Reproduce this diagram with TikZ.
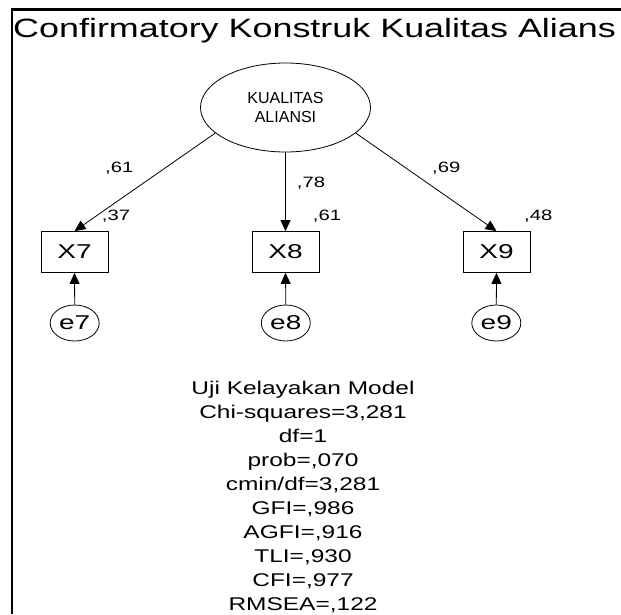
\documentclass[tikz,border=0pt]{standalone}
\usepackage{fontspec}
\setmainfont{Liberation Sans}
\usetikzlibrary{arrows.meta,shapes.geometric}
% horizontally widened text, as in the exported path diagram
\newcommand\widetxt[2][1.38]{\scalebox{#1}[1]{#2}}
\begin{document}
\begin{tikzpicture}[x=1pt,y=1pt,
  conn/.style={line width=0.8pt,-{Triangle[length=11pt,width=10pt]}},
  latent/.style={ellipse,draw,line width=0.8pt,minimum width=170pt,minimum height=89pt,
    inner sep=0pt,align=center,font=\fontsize{16}{18.5}\selectfont},
  obs/.style={rectangle,draw,line width=0.8pt,minimum width=67pt,minimum height=41pt,
    inner sep=0pt,font=\fontsize{20}{22}\selectfont},
  err/.style={ellipse,draw,line width=0.8pt,minimum width=49pt,minimum height=36pt,
    inner sep=0pt,font=\fontsize{20}{22}\selectfont},
  coef/.style={anchor=base west,inner sep=0pt,font=\fontsize{15}{17}\selectfont},
  stat/.style={anchor=base,inner sep=0pt,font=\fontsize{18.4}{22}\selectfont}
]
\useasboundingbox (0,0) rectangle (621,-614);
% page frame
\draw[line width=2.3pt,line join=miter] (12,-614) -- (12,-9.5) -- (621,-9.5);
% title
\node[anchor=base west,inner sep=0pt,font=\fontsize{26.5}{30}\selectfont] (title) at (13,-37.5)
  {\widetxt[1.355]{Confirmatory Konstruk Kualitas Alians}};

% latent construct
\node[latent] (lat) at (285.5,-107.5) {KUALITAS\\ALIANSI};

% indicators
\node[obs] (x7) at (74.5,-252) {\widetxt[1.4]{X7}};
\node[obs] (x8) at (285.5,-252) {\widetxt[1.4]{X8}};
\node[obs] (x9) at (496.5,-252) {\widetxt[1.4]{X9}};

% error terms
\node[err] (e7) at (74.7,-323) {\widetxt[1.4]{e7}};
\node[err] (e8) at (285.8,-323) {\widetxt[1.4]{e8}};
\node[err] (e9) at (496.3,-323) {\widetxt[1.4]{e9}};

% loadings
\draw[conn] (lat.200) -- (x7.north);
\draw[conn] (lat.south) -- (x8.north);
\draw[conn] (lat.340) -- (x9.north);
% residual paths
\draw[conn] (e7.north) -- (x7.south);
\draw[conn] (e8.north) -- (x8.south);
\draw[conn] (e9.north) -- (x9.south);

% standardized loadings and squared multiple correlations
\node[coef] (l7) at (105,-172) {\widetxt[1.35]{,61}};
\node[coef] (l8) at (296.7,-187) {\widetxt[1.35]{,78}};
\node[coef] (l9) at (432,-172) {\widetxt[1.35]{,69}};
\node[coef] (r7) at (101.7,-220) {\widetxt[1.35]{,37}};
\node[coef] (r8) at (312.7,-220) {\widetxt[1.35]{,61}};
\node[coef] (r9) at (524,-220) {\widetxt[1.35]{,48}};

% goodness-of-fit summary
\foreach \t [count=\i] in {{Uji Kelayakan Model},{Chi-squares=3,281},{df=1},{prob=,070},
    {cmin/df=3,281},{GFI=,986},{AGFI=,916},{TLI=,930},{CFI=,977},{RMSEA=,122}}
  \node[stat] (fit\i) at (303,{-394.5-24*(\i-1)}) {\widetxt[1.33]{\t}};
\end{tikzpicture}
\end{document}
